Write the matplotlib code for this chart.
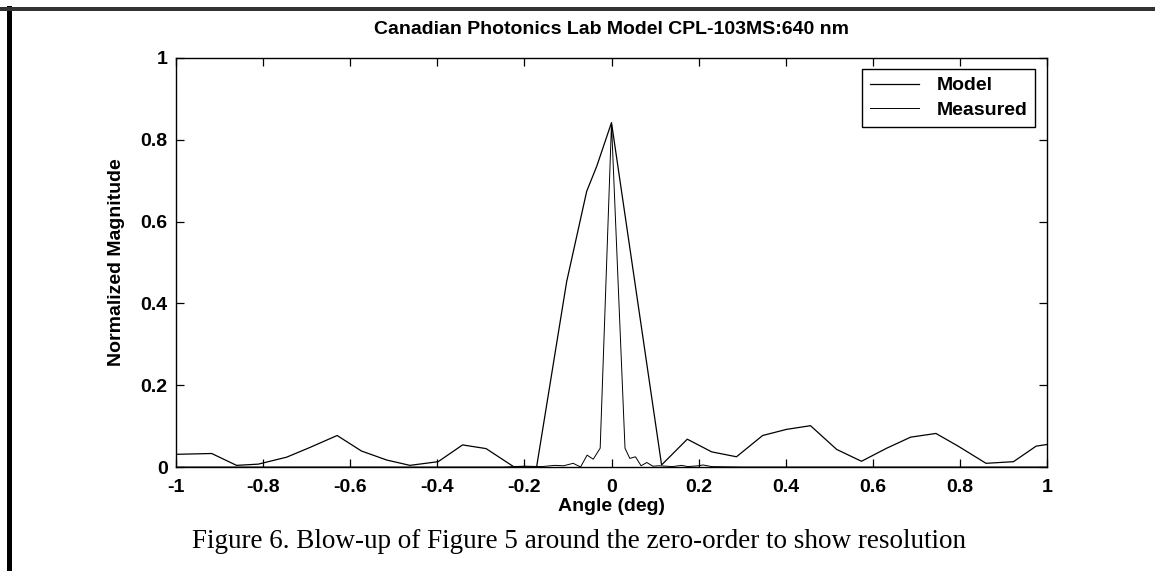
import matplotlib
matplotlib.use("Agg")
import matplotlib.pyplot as plt
from matplotlib.patches import Rectangle

# ---- data ----
model_x = [-1.0, -0.918, -0.861, -0.811, -0.746, -0.692, -0.630, -0.574, -0.516, -0.463,
           -0.398, -0.342, -0.288, -0.225, -0.172, -0.103, -0.057, -0.034, 0.0, 0.115,
           0.174, 0.230, 0.287, 0.347, 0.402, 0.457, 0.517, 0.574, 0.632, 0.687,
           0.745, 0.796, 0.860, 0.923, 0.975, 1.0]
model_y = [0.031, 0.033, 0.004, 0.007, 0.024, 0.048, 0.077, 0.039, 0.017, 0.004,
           0.013, 0.054, 0.045, 0.001, 0.0, 0.453, 0.674, 0.735, 0.842, 0.005,
           0.068, 0.037, 0.025, 0.077, 0.092, 0.101, 0.043, 0.014, 0.046, 0.073,
           0.082, 0.051, 0.009, 0.013, 0.051, 0.055]

meas_x = [-1.0, -0.25, -0.20, -0.16, -0.13, -0.11, -0.088, -0.071, -0.056, -0.042,
          -0.026, 0.0, 0.031, 0.042, 0.055, 0.068, 0.081, 0.095, 0.11, 0.14,
          0.161, 0.175, 0.20, 0.21, 0.23, 0.30, 1.0]
meas_y = [0.0, 0.0, 0.002, 0.001, 0.004, 0.003, 0.009, 0.0, 0.029, 0.019,
          0.046, 0.840, 0.046, 0.021, 0.025, 0.003, 0.011, 0.002, 0.003, 0.001,
          0.004, 0.001, 0.003, 0.005, 0.001, 0.0, 0.0]

x_ticks = [-1, -0.8, -0.6, -0.4, -0.2, 0, 0.2, 0.4, 0.6, 0.8, 1]
x_tick_labels = ["-1", "-0.8", "-0.6", "-0.4", "-0.2", "0", "0.2", "0.4", "0.6", "0.8", "1"]
y_ticks = [0, 0.2, 0.4, 0.6, 0.8, 1]
y_tick_labels = ["0", "0.2", "0.4", "0.6", "0.8", "1"]

title = "Canadian Photonics Lab Model CPL-103MS:640 nm"
xlabel = "Angle (deg)"
ylabel = "Normalized Magnitude"
caption = "Figure 6. Blow-up of Figure 5 around the zero-order to show resolution"

plt.rcParams['font.family'] = ['Liberation Sans', 'DejaVu Sans']

W, H = 1155, 571
FS = 14
fig = plt.figure(figsize=(W / 100, H / 100), dpi=100)
fig.patch.set_facecolor("white")

ax = fig.add_axes([176 / W, 1 - 467 / H, (1047 - 176) / W, (467 - 58) / H])
ax.plot(model_x, model_y, color="black", lw=0.9, label="Model")
ax.plot(meas_x, meas_y, color="black", lw=0.7, label="Measured")

ax.set_xlim(-1, 1)
ax.set_ylim(0, 1)
ax.set_xticks(x_ticks)
ax.set_xticklabels(x_tick_labels)
ax.set_yticks(y_ticks)
ax.set_yticklabels(y_tick_labels)
ax.tick_params(direction="in", length=6, width=0.9, top=True, right=True,
               labelsize=FS, colors="black")
ax.tick_params(axis="x", pad=9)
ax.tick_params(axis="y", pad=6)
for lab in ax.get_xticklabels() + ax.get_yticklabels():
    lab.set_fontweight("bold")
for s in ax.spines.values():
    s.set_linewidth(1.0)

ax.set_title(title, fontsize=FS, fontweight="bold", pad=17)
ax.set_xlabel(xlabel, fontsize=FS, fontweight="bold", labelpad=1)
ax.set_ylabel(ylabel, fontsize=FS, fontweight="bold", labelpad=11)

leg = ax.legend(loc="upper right", bbox_to_anchor=(1035 / W, 1 - 69 / H),
                bbox_transform=fig.transFigure,
                fancybox=False, framealpha=1, edgecolor="black",
                prop={"size": FS, "weight": "bold"}, handlelength=2.5,
                borderpad=0.4, labelspacing=0.35, handletextpad=0.9,
                borderaxespad=0)
leg.get_frame().set_linewidth(1.0)

# caption
fig.text(579 / W, 1 - 542 / H, caption, ha="center", va="center",
         fontsize=19.5, family=["Liberation Serif", "DejaVu Serif"])

# scanned page borders
fig.add_artist(Rectangle((7 / W, 0), 5 / W, 1 - 6 / H, transform=fig.transFigure,
                         color="black", lw=0))
fig.add_artist(Rectangle((0, 1 - 11 / H), 1, 4 / H, transform=fig.transFigure,
                         color="#333333", lw=0))

fig.savefig("out.png", dpi=100)
